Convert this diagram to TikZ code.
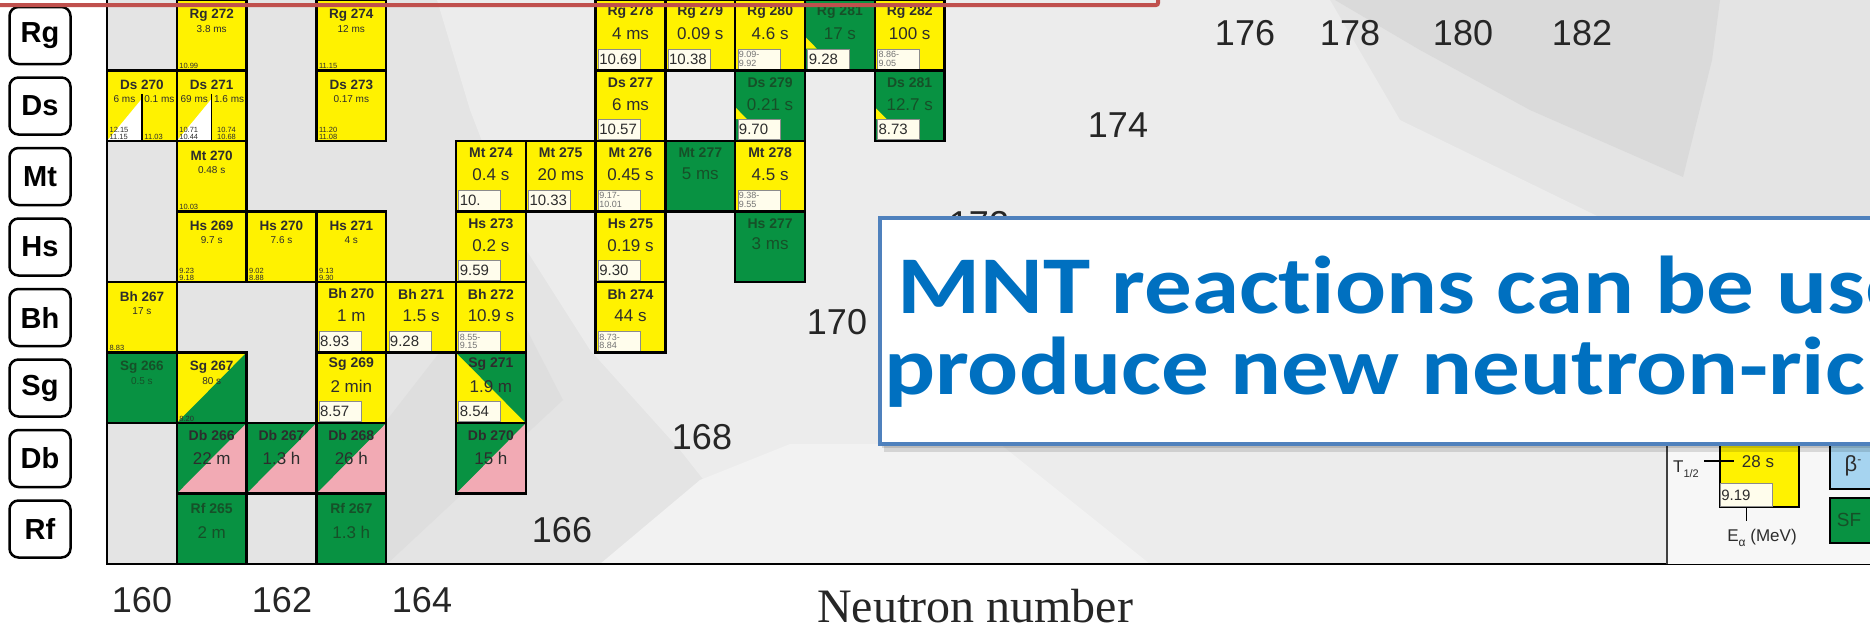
\documentclass[tikz,border=0pt]{standalone}
\usepackage{fontspec}
\setmainfont{Liberation Sans}
\newfontfamily\timesfont{Liberation Serif}
\newfontfamily\slidefont[Ligatures=NoCommon]{Carlito}
\usepackage{tikz}
\usetikzlibrary{positioning}
\definecolor{nucyellow}{RGB}{255,242,0}
\definecolor{nucgreen}{RGB}{8,146,66}
\definecolor{nucpink}{RGB}{242,170,180}
\definecolor{nucblue}{RGB}{166,212,240}
\definecolor{eacream}{RGB}{255,253,236}
\definecolor{txtdark}{RGB}{45,45,45}
\definecolor{txtgreen}{RGB}{22,80,40}
\definecolor{slideblue}{RGB}{0,112,192}
\definecolor{boxblue}{RGB}{79,129,189}
\definecolor{boxred}{RGB}{192,80,77}
\definecolor{chartbg}{RGB}{228,228,228}
\definecolor{chartlight}{RGB}{236,236,236}
\definecolor{chartpale}{RGB}{242,242,242}
\definecolor{chartdark}{RGB}{218,218,218}
\tikzset{
  cellline/.style={draw=black, line width=2.4pt},
  yel/.style={fill=nucyellow},
  grn/.style={fill=nucgreen},
  pnk/.style={fill=nucpink},
  oname/.style={font=\fontsize{13.5}{13.5}\selectfont\bfseries},
  ohl/.style={font=\fontsize{10}{10}\selectfont},
  oea/.style={font=\fontsize{7.5}{7}\selectfont, text=txtdark, anchor=south west,
              inner sep=1pt, align=left},
  nname/.style={font=\fontsize{14}{14}\selectfont\bfseries},
  nhl/.style={font=\fontsize{17}{17}\selectfont},
  eabox/.style={draw=black!45, line width=0.6pt, fill=eacream, anchor=south west,
                text width=40pt, minimum height=20pt, inner sep=1pt, align=left,
                font=\fontsize{15}{15}\selectfont, text=txtdark},
  eatwo/.style={eabox, font=\fontsize{9}{8.5}\selectfont, text=black!55},
  elbox/.style={draw=black, line width=2.5pt, rounded corners=9pt, fill=white,
                minimum width=61pt, minimum height=57pt,
                font=\fontsize{29}{29}\selectfont\bfseries},
  nlabel/.style={font=\fontsize{36}{36}\selectfont, text=black!85},
  slidetxt/.style={font=\slidefont\bfseries\fontsize{82}{82}\selectfont, text=slideblue,
                   anchor=base west, inner sep=0pt},
}
% old chart format: col,row,colour,name,half-life,energies
\newcommand\otxt[6]{%
  \node[oname,text=#3] (nm-#1-#2) at (#1+0.5,#2+0.21) {#4};
  \node[ohl,text=#3] (hl-#1-#2) at (#1+0.5,#2+0.41) {#5};
  \node[oea] (ea-#1-#2) at (#1+0.02,#2+0.99) {#6};}
% new chart format: col,row,colour,name,half-life,box style,energies
\newcommand\ntxt[7]{%
  \node[nname,text=#3] (nm-#1-#2) at (#1+0.5,#2+0.17) {#4};
  \node[nhl,text=#3] (hl-#1-#2) at (#1+0.5,#2+0.48) {#5};
  \node[#6] (ea-#1-#2) at (#1+0.035,#2+0.985) {#7};}
% no energy box: col,row,colour,name,half-life,y name,y half-life
\newcommand\htxt[7]{%
  \node[nname,text=#3] (nm-#1-#2) at (#1+0.5,#2+#6) {#4};
  \node[nhl,text=#3] (hl-#1-#2) at (#1+0.5,#2+#7) {#5};}

\begin{document}
\begin{tikzpicture}[x=1pt,y=-1pt,line join=miter]
  \useasboundingbox (0,0) rectangle (1870,633);
  \clip (0,0) rectangle (1870,633);
  \fill[white] (0,0) rectangle (1870,633);
  % ====== background of the chart ======
  \fill[chartbg] (107,0) rectangle (1870,564);
  \fill[chartlight] (437,0) -- (470,110) -- (520,240) -- (590,350) -- (680,450)
        -- (770,564) -- (1667,564) -- (1667,250) -- (1400,120) -- (1330,0) -- cycle;
  \fill[chartpale] (600,564) -- (700,480) -- (790,444) -- (1000,444) -- (1150,564) -- cycle;
  \fill[chartdark] (1335,0) -- (1420,50) -- (1530,110) -- (1683,177) -- (1712,60)
        -- (1720,0) -- cycle;
  \fill[chartdark!60!chartbg] (387,564) -- (563,400) -- (527,330) -- (457,330) -- (387,420) -- cycle;
  % ====== nuclide cells ======
  \begin{scope}[shift={(107pt,0pt)},x=69.8pt,y=-70.5pt]
    \foreach \c/\r in {1/0,3/0,7/0,8/0,9/0,11/0, 0/1,1/1,3/1,7/1, 1/2,5/2,6/2,7/2,9/2,
                       1/3,2/3,3/3,5/3,7/3, 0/4,3/4,4/4,5/4,7/4, 1/5,3/5,5/5}
      \fill[yel] (\c,\r) rectangle ++(1,1);
    \foreach \c/\r in {10/0,9/1,11/1,8/2,9/3,0/5,1/7,3/7}
      \fill[grn] (\c,\r) rectangle ++(1,1);
    \foreach \c/\r in {1/6,2/6,3/6,5/6}{
      \fill[pnk] (\c,\r) rectangle ++(1,1);
      \fill[grn] (\c,\r) -- ++(1,0) -- (\c,\r+1) -- cycle;}
    \fill[grn] (1,6) -- (2,5) -- (2,6) -- cycle;          % Sg 267
    \fill[grn] (5,5) -- (6,5) -- (6,6) -- cycle;          % Sg 271
    \foreach \c/\r in {10/0,9/1,11/1}
      \fill[yel] (\c,\r+0.52) -- (\c,\r+0.69) -- (\c+0.17,\r+0.69) -- cycle;
    \foreach \c in {0,1}{
      \fill[white] (\c,2) -- (\c+0.5,2) -- (\c+0.5,1.4) -- cycle;
      \draw[line width=1.3pt] (\c+0.5,1.33) -- (\c+0.5,2);}
    % --- old format texts ---
    \otxt{1}{0}{txtdark}{Rg 272}{3.8 ms}{10.99}
    \otxt{3}{0}{txtdark}{Rg 274}{12 ms}{11.15}
    \otxt{3}{1}{txtdark}{Ds 273}{0.17 ms}{11.20\\11.08}
    \otxt{1}{2}{txtdark}{Mt 270}{0.48 s}{10.03}
    \otxt{1}{3}{txtdark}{Hs 269}{9.7 s}{9.23\\9.18}
    \otxt{2}{3}{txtdark}{Hs 270}{7.6 s}{9.02\\8.88}
    \otxt{3}{3}{txtdark}{Hs 271}{4 s}{9.13\\9.30}
    \otxt{0}{4}{txtdark}{Bh 267}{17 s}{8.83}
    \otxt{0}{5}{txtgreen}{Sg 266}{0.5 s}{}
    \otxt{1}{5}{txtdark}{Sg 267}{80 s}{8.20}
    \node[oname,text=txtdark] (nm-0-1) at (0.5,1.21) {Ds 270};
    \node[ohl,text=txtdark] (hl-0-1a) at (0.25,1.41) {6 ms};
    \node[ohl,text=txtdark] (hl-0-1b) at (0.75,1.41) {0.1 ms};
    \node[oea] (ea-0-1a) at (0.02,1.99) {12.15\\11.15};
    \node[oea] (ea-0-1b) at (0.52,1.99) {11.03};
    \node[oname,text=txtdark] (nm-1-1) at (1.5,1.21) {Ds 271};
    \node[ohl,text=txtdark] (hl-1-1a) at (1.25,1.41) {69 ms};
    \node[ohl,text=txtdark] (hl-1-1b) at (1.75,1.41) {1.6 ms};
    \node[oea] (ea-1-1a) at (1.02,1.99) {10.71\\10.44};
    \node[oea] (ea-1-1b) at (1.56,1.99) {10.74\\10.68};
    % --- new format texts ---
    \ntxt{7}{0}{txtdark}{Rg 278}{4 ms}{eabox}{10.69}
    \ntxt{8}{0}{txtdark}{Rg 279}{0.09 s}{eabox}{10.38}
    \ntxt{9}{0}{txtdark}{Rg 280}{4.6 s}{eatwo}{9.09-\\9.92}
    \ntxt{10}{0}{txtgreen}{Rg 281}{17 s}{eabox}{9.28}
    \ntxt{11}{0}{txtdark}{Rg 282}{100 s}{eatwo}{8.86-\\9.05}
    \ntxt{7}{1}{txtdark}{Ds 277}{6 ms}{eabox}{10.57}
    \ntxt{9}{1}{txtgreen}{Ds 279}{0.21 s}{eabox}{9.70}
    \ntxt{11}{1}{txtgreen}{Ds 281}{12.7 s}{eabox}{8.73}
    \ntxt{5}{2}{txtdark}{Mt 274}{0.4 s}{eabox}{10.}
    \ntxt{6}{2}{txtdark}{Mt 275}{20 ms}{eabox}{10.33}
    \ntxt{7}{2}{txtdark}{Mt 276}{0.45 s}{eatwo}{9.17-\\10.01}
    \htxt{8}{2}{txtgreen}{Mt 277}{5 ms}{0.17}{0.46}
    \ntxt{9}{2}{txtdark}{Mt 278}{4.5 s}{eatwo}{9.38-\\9.55}
    \ntxt{5}{3}{txtdark}{Hs 273}{0.2 s}{eabox}{9.59}
    \ntxt{7}{3}{txtdark}{Hs 275}{0.19 s}{eabox}{9.30}
    \htxt{9}{3}{txtgreen}{Hs 277}{3 ms}{0.17}{0.46}
    \ntxt{3}{4}{txtdark}{Bh 270}{1 m}{eabox}{8.93}
    \ntxt{4}{4}{txtdark}{Bh 271}{1.5 s}{eabox}{9.28}
    \ntxt{5}{4}{txtdark}{Bh 272}{10.9 s}{eatwo}{8.55-\\9.15}
    \ntxt{7}{4}{txtdark}{Bh 274}{44 s}{eatwo}{8.73-\\8.84}
    \ntxt{3}{5}{txtdark}{Sg 269}{2 min}{eabox}{8.57}
    \ntxt{5}{5}{txtdark}{Sg 271}{1.9 m}{eabox}{8.54}
    \htxt{1}{6}{txtdark}{Db 266}{22 m}{0.17}{0.5}
    \htxt{2}{6}{txtdark}{Db 267}{1.3 h}{0.17}{0.5}
    \htxt{3}{6}{txtdark}{Db 268}{26 h}{0.17}{0.5}
    \htxt{5}{6}{txtdark}{Db 270}{15 h}{0.17}{0.5}
    \htxt{1}{7}{txtgreen}{Rf 265}{2 m}{0.21}{0.55}
    \htxt{3}{7}{txtgreen}{Rf 267}{1.3 h}{0.21}{0.55}
    % --- cell borders ---
    \foreach \c/\r in {1/0,3/0,7/0,8/0,9/0,10/0,11/0, 0/1,1/1,3/1,7/1,9/1,11/1,
                       1/2,5/2,6/2,7/2,8/2,9/2, 1/3,2/3,3/3,5/3,7/3,9/3,
                       0/4,3/4,4/4,5/4,7/4, 0/5,1/5,3/5,5/5, 1/6,2/6,3/6,5/6, 1/7,3/7}
      \draw[cellline] (\c,\r) rectangle ++(1,1);
  \end{scope}
  % ====== frame ======
  \draw[line width=2.5pt] (107,0) -- (107,564) -- (1870,564);
  % ====== element labels ======
  \foreach \el [count=\j from 0] in {Rg,Ds,Mt,Hs,Bh,Sg,Db,Rf}
    \node[elbox] (el-\el) at (40,{35.5+70.5*\j}) {\el};
  % ====== neutron numbers ======
  \foreach \n/\x/\y in {160/142/600, 162/282/600, 164/422/600, 166/562/530,
                        168/702/437, 170/837/322, 172/979/224, 174/1118/125,
                        176/1245/33, 178/1350/33, 180/1463/33, 182/1582/33}
    \node[nlabel] (n\n) at (\x,\y) {\n};
  \node[font=\timesfont\fontsize{48}{48}\selectfont, anchor=base, text=black!85]
       (xlabel) at (975,622) {Neutron number};
  % ====== legend ======
  \fill[white!97!black] (1667,443) rectangle (1870,564);
  \draw[black!75, line width=1.5pt] (1667,430) -- (1667,564);
  \filldraw[fill=nucyellow, draw=black, line width=1.5pt] (1720,420) rectangle (1799,507);
  \node[eabox, text width=50pt, minimum height=23pt] (lg-ea) at (1720,507) {9.19};
  \node[nhl, text=txtdark] (lg-hl) at (1758,462) {28 s};
  \node[font=\fontsize{17}{17}\selectfont, text=txtdark] (lg-t) at (1686,469)
       {T\raisebox{-5pt}{\fontsize{11}{11}\selectfont 1/2}};
  \coordinate (tl-a) at (1704,461);
  \coordinate (tl-b) at (1734,461);
  \draw[line width=1.3pt] (tl-a) -- (tl-b);
  \draw[line width=1.3pt] (lg-ea.south) -- ++(0,14);
  \node[font=\fontsize{17}{17}\selectfont, text=txtdark] (lg-e) at (1762,538)
       {E\raisebox{-5pt}{\fontsize{12}{12}\selectfont α} (MeV)};
  \filldraw[fill=nucblue, draw=black, line width=1.5pt] (1830,420) rectangle (1895,489);
  \node[font=\fontsize{22}{22}\selectfont, text=txtdark] (lg-b) at (1853,466)
       {β\raisebox{8pt}{\fontsize{12}{12}\selectfont -}};
  \filldraw[fill=nucgreen, draw=black, line width=1.5pt] (1830,498) rectangle (1895,543);
  \node[font=\fontsize{19}{19}\selectfont, text=txtgreen] (lg-sf) at (1849,520) {SF};
  % ====== text box ======
  \fill[black, opacity=0.12] (884,224) rectangle (1900,452);
  \fill[black, opacity=0.12] (882,221) rectangle (1900,448);
  \filldraw[fill=white, draw=boxblue, line width=4pt] (880,218) rectangle (1900,444);
  \node[slidetxt] (line1) at (897,313) {\scalebox{1.16}[1]{MNT reactions can be use}};
  \node[slidetxt] (line2) at (884,394) {\scalebox{1.16}[1]{produce new neutron-rich}};
  % ====== red frame ======
  \draw[boxred, line width=4pt, rounded corners=2pt] (-20,-30) rectangle (1158,5);
\end{tikzpicture}
\end{document}
